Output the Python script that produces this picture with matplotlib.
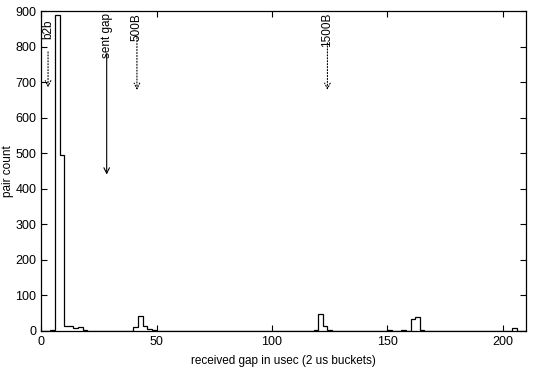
import numpy as np
import matplotlib.pyplot as plt

plt.rcParams['font.family'] = ['Liberation Sans', 'DejaVu Sans']

# histogram of received gaps, 2 us buckets (bucket start -> pair count)
bucket_starts = [2, 4, 6, 8, 10, 12, 14, 16, 18,
                 40, 42, 44, 46, 48,
                 118, 120, 122, 124,
                 150, 156, 160, 162, 164,
                 204]
pair_counts = [1, 3, 890, 495, 15, 14, 8, 12, 2,
               10, 42, 14, 5, 2,
               3, 48, 15, 2,
               2, 2, 35, 38, 2,
               7]

x_max = 210
edges = np.arange(0, x_max + 2, 2)
counts = np.zeros(len(edges) - 1)
for s, c in zip(bucket_starts, pair_counts):
    counts[s // 2] = c

# labelled markers: label, x, text top, arrow tail, arrow tip, dotted?
marker_labels = ["b2b", "sent gap", "500B", "1500B"]
marker_x = [3, 28.4, 41.5, 124]
marker_top = [875, 895, 895, 895]
marker_tail = [785, 780, 825, 810]
marker_tip = [685, 440, 678, 678]
marker_dotted = [True, False, True, True]

fig = plt.figure(figsize=(5.34, 3.80), dpi=100)
ax = fig.add_axes([0.077, 0.129, 0.908, 0.842])

ax.stairs(counts, edges, color='black', lw=0.9)

for lab, x, top, tail, tip, dot in zip(marker_labels, marker_x, marker_top,
                                       marker_tail, marker_tip, marker_dotted):
    ax.annotate('', xy=(x, tip), xytext=(x, tail),
                arrowprops=dict(arrowstyle='->', color='black', lw=0.8,
                                linestyle=':' if dot else '-',
                                shrinkA=0, shrinkB=0))
    ax.text(x, top, lab, rotation=90, ha='center', va='top', fontsize=8.5)

ax.set_xlim(0, x_max)
ax.set_ylim(0, 900)
ax.set_xticks([0, 50, 100, 150, 200])
ax.set_yticks(range(0, 901, 100))
ax.tick_params(direction='in', top=True, right=True, labelsize=9,
               length=4, width=0.8)
ax.set_xlabel("received gap in usec (2 us buckets)", fontsize=8.5, labelpad=5)
ax.set_ylabel("pair count", fontsize=8.5, va='center')
ax.yaxis.set_label_coords(-0.068, 0.5)
for sp in ax.spines.values():
    sp.set_linewidth(0.9)

fig.savefig("out.png", dpi=100)
